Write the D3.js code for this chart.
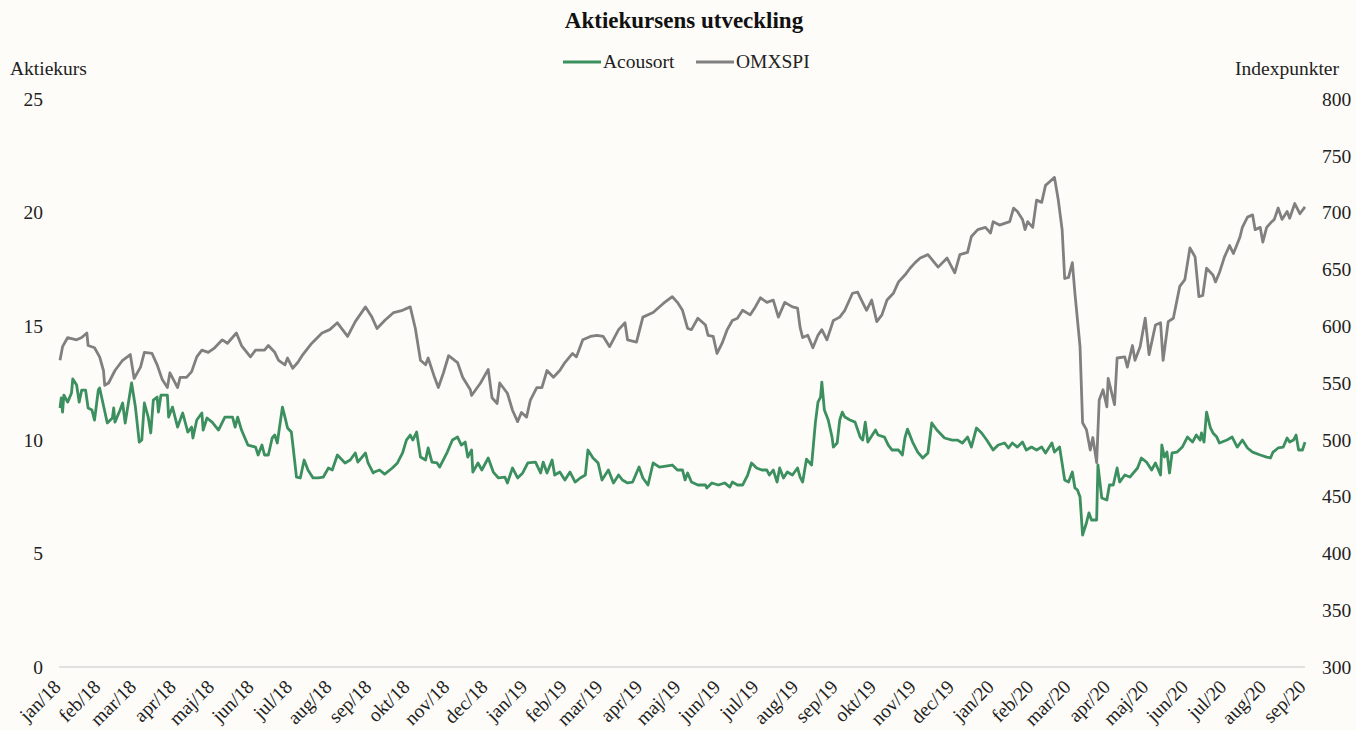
<!DOCTYPE html>
<html>
<head>
<meta charset="utf-8">
<script src="https://cdn.jsdelivr.net/npm/d3@7"></script>
<style>
  html, body { margin: 0; padding: 0; background: #fdfcf8; }
  svg { display: block; font-family: "Liberation Serif", "Times New Roman", serif; }
  .tick text { fill: #222; font-size: 19.5px; font-family: "Liberation Serif", "Times New Roman", serif; }
</style>
</head>
<body>
<div id="chart"></div>
<script>
// Days since 2018-01-01 and values
const acoDays = [0,1,2,3,6,9,10,13,15,17,20,22,25,27,30,31,37,41,42,43,47,49,51,53,56,59,62,64,66,69,71,73,76,77,79,84,85,88,92,96,100,103,104,107,111,112,115,119,124,129,135,137,139,142,147,153,155,158,160,163,166,168,170,174,176,178,181,182,185,188,191,194,198,202,206,210,213,217,223,227,231,233,239,241,245,246,250,254,260,264,268,271,274,276,279,282,286,288,291,295,297,303,307,311,314,317,319,322,323,327,330,335,339,343,348,350,354,358,362,366,372,376,378,381,385,387,391,395,399,403,407,411,413,417,421,424,429,433,437,440,444,448,453,456,460,464,469,479,483,487,489,491,494,499,505,506,510,515,520,524,526,530,534,538,541,545,549,553,555,558,561,563,566,569,573,577,579,581,584,588,591,593,595,596,598,601,604,605,608,610,612,614,618,622,626,628,630,632,638,640,645,648,651,656,659,661,663,667,671,675,679,682,686,692,698,702,706,710,713,717,721,725,730,734,739,742,745,749,753,756,760,764,768,771,776,778,782,786,789,792,794,796,798,800,803,805,807,811,812,815,819,821,824,827,829,833,837,843,846,850,854,857,861,862,864,866,868,870,874,878,882,886,889,892,893,895,897,900,902,905,907,913,917,921,925,929,933,939,944,947,949,953,957,960,962,965,967,969,972,974];
const acoValues = [11.40,11.84,11.22,11.97,11.66,12.06,12.68,12.41,11.66,12.19,12.19,11.40,11.31,10.87,12.19,12.28,10.74,10.96,11.40,10.78,11.31,11.62,10.74,11.44,12.50,11.44,9.90,9.99,11.62,11.00,10.30,11.75,11.88,11.22,11.97,11.97,11.00,11.44,10.56,11.18,10.34,10.56,10.08,10.87,11.18,10.43,10.96,10.78,10.43,11.00,11.00,10.56,11.00,10.43,9.77,9.68,9.33,9.77,9.33,9.33,10.08,10.21,9.86,11.44,11.00,10.52,10.34,9.86,8.36,8.32,9.11,8.67,8.32,8.32,8.36,8.76,8.67,9.33,8.98,9.11,9.42,9.02,9.42,8.98,8.54,8.58,8.67,8.49,8.76,8.98,9.42,9.99,10.21,9.99,10.34,9.24,9.11,9.64,9.02,8.98,8.80,9.46,9.99,10.12,9.77,9.90,9.24,9.55,8.58,8.98,8.67,9.20,8.58,8.32,8.36,8.10,8.76,8.32,8.54,8.98,9.02,8.54,9.02,8.54,9.11,8.45,8.58,8.23,8.58,8.14,8.32,8.45,9.55,9.20,8.98,8.23,8.67,8.10,8.45,8.23,8.10,8.14,8.80,8.32,8.01,8.98,8.80,8.89,8.67,8.67,8.23,8.54,8.14,8.01,8.01,7.88,8.10,8.01,8.10,7.92,8.14,8.01,8.01,8.45,8.98,8.76,8.67,8.67,8.45,8.67,8.14,8.76,8.32,8.58,8.45,8.76,8.36,8.14,9.15,8.89,10.78,11.66,11.88,12.54,11.31,10.87,10.12,9.68,9.86,10.87,11.22,11.00,10.87,10.78,10.12,9.99,10.78,9.90,10.43,10.21,10.12,9.77,9.55,9.55,9.33,10.08,10.47,9.90,9.46,9.20,9.42,10.74,10.43,10.08,9.99,9.99,9.86,10.12,9.68,10.52,10.30,9.99,9.55,9.77,9.86,9.64,9.86,9.68,9.90,9.55,9.68,9.55,9.68,9.42,9.86,9.46,9.68,8.23,8.14,8.58,7.88,7.79,7.48,5.81,6.34,6.78,6.47,6.47,8.89,7.44,7.35,8.01,8.01,8.76,8.14,8.45,8.36,8.76,9.20,9.02,8.67,8.98,8.45,9.77,9.24,9.46,8.54,9.42,9.46,9.68,10.12,9.90,10.21,9.99,10.30,9.90,11.22,10.52,10.30,10.12,9.86,9.99,10.12,9.68,9.99,9.64,9.46,9.33,9.24,9.20,9.46,9.64,9.68,10.08,9.90,9.99,10.21,9.55,9.55,9.90];

const omxDays = [0,2,6,13,17,21,22,27,31,34,35,38,43,49,55,58,63,66,72,76,80,84,86,92,94,99,103,107,111,116,121,127,131,138,142,149,153,160,163,168,171,176,178,182,186,190,197,205,211,217,225,231,239,244,248,254,261,268,274,278,282,286,288,293,296,300,304,311,315,321,322,329,335,338,342,344,350,354,358,361,365,368,373,377,381,386,391,395,401,404,409,415,420,425,430,437,442,444,451,456,464,472,479,483,487,491,494,499,505,507,511,514,518,522,526,530,534,540,544,548,553,558,562,567,573,577,579,581,585,589,593,596,600,605,610,614,620,624,627,631,635,639,643,647,652,656,661,665,669,673,679,687,694,700,704,710,713,718,724,728,730,735,743,746,749,753,755,757,761,764,768,771,774,778,781,784,786,789,792,794,798,800,803,806,808,811,813,816,819,820,825,827,833,835,839,841,845,849,852,857,861,863,867,871,876,880,884,888,891,894,897,902,904,907,911,915,918,923,925,929,933,935,939,941,944,948,950,953,956,960,962,966,970,974];
const omxValues = [570,582,590,588,590,594,583,581,573,561,548,550,561,570,575,554,564,577,576,566,553,546,559,546,555,555,560,573,579,577,581,588,585,594,583,573,579,579,583,577,570,566,572,563,568,575,585,594,597,603,591,604,617,608,598,605,612,614,617,598,570,566,572,555,546,559,574,568,555,544,539,550,562,537,532,550,541,526,516,524,520,535,546,546,561,555,561,568,576,573,588,591,592,591,582,597,603,588,586,608,612,620,626,621,614,598,597,607,601,592,591,576,585,597,605,607,614,610,617,625,621,623,608,621,617,616,599,590,592,581,592,597,588,605,608,614,629,630,623,614,623,604,610,623,629,639,645,651,656,660,663,652,660,647,663,665,679,685,687,682,692,689,692,704,701,694,685,692,687,711,709,724,727,731,711,685,642,643,656,629,582,515,509,491,502,480,535,544,529,554,531,572,573,564,583,570,582,607,575,601,603,570,604,607,635,641,669,661,626,627,651,645,639,647,661,671,664,678,687,696,698,685,687,674,687,692,694,704,694,701,695,708,699,705];

const monthNames = ["jan","feb","mar","apr","maj","jun","jul","aug","sep","okt","nov","dec"];
const leftTicks = [0, 5, 10, 15, 20, 25];
const rightTicks = [300, 350, 400, 450, 500, 550, 600, 650, 700, 750, 800];
const seriesNames = ["Acousort", "OMXSPI"];
const seriesColors = ["#3c8f5e", "#808080"];

const WIDTH = 1356, HEIGHT = 730;
const startDate = new Date(2018, 0, 1);
const endDate = new Date(2020, 8, 1);

const svg = d3.select("#chart").append("svg")
    .attr("width", WIDTH)
    .attr("height", HEIGHT);

const x = d3.scaleTime().domain([startDate, endDate]).range([60, 1305]);
const yLeft = d3.scaleLinear().domain([0, 25]).range([667, 99]);
const yRight = d3.scaleLinear().domain([300, 800]).range([667, 99]);

// title
svg.append("text")
    .attr("x", 684)
    .attr("y", 28)
    .attr("text-anchor", "middle")
    .style("font-size", "23px")
    .style("font-weight", "bold")
    .style("fill", "#111")
    .text("Aktiekursens utveckling");

// axis titles
svg.append("text")
    .attr("x", 10).attr("y", 75)
    .style("font-size", "19.5px").style("fill", "#222")
    .text("Aktiekurs");
svg.append("text")
    .attr("x", 1339).attr("y", 75)
    .attr("text-anchor", "end")
    .style("font-size", "19.5px").style("fill", "#222")
    .text("Indexpunkter");

// legend
const legend = svg.append("g");
const legendX = [563, 696];
seriesNames.forEach((name, i) => {
    legend.append("line")
        .attr("x1", legendX[i]).attr("x2", legendX[i] + 38)
        .attr("y1", 62).attr("y2", 62)
        .attr("stroke", seriesColors[i])
        .attr("stroke-width", 2.8);
    legend.append("text")
        .attr("x", legendX[i] + 40).attr("y", 68)
        .style("font-size", "19.5px").style("fill", "#222")
        .text(name);
});

// y axes (labels only)
svg.append("g")
    .attr("transform", "translate(59,0)")
    .call(d3.axisLeft(yLeft).tickValues(leftTicks).tickSize(0).tickPadding(16))
    .call(g => g.select(".domain").remove());

svg.append("g")
    .attr("transform", "translate(1305,0)")
    .call(d3.axisRight(yRight).tickValues(rightTicks).tickSize(0).tickPadding(17))
    .call(g => g.select(".domain").remove());

// x axis baseline
svg.append("line")
    .attr("x1", 59).attr("x2", 1305)
    .attr("y1", yLeft(0)).attr("y2", yLeft(0))
    .attr("stroke", "#d9d9d9")
    .attr("stroke-width", 1.3);

// month labels
const months = d3.timeMonth.range(startDate, d3.timeDay.offset(endDate, 1));
svg.append("g").selectAll("text")
    .data(months)
    .join("text")
    .attr("text-anchor", "end")
    .attr("transform", d => `translate(${x(d) + 2},${688}) rotate(-45)`)
    .style("font-size", "19.5px")
    .style("fill", "#222")
    .text(d => `${monthNames[d.getMonth()]}/${String(d.getFullYear()).slice(2)}`);

// lines
const aco = d3.zip(acoDays, acoValues).map(([d, v]) => ({ date: d3.timeDay.offset(startDate, d), value: v }));
const omx = d3.zip(omxDays, omxValues).map(([d, v]) => ({ date: d3.timeDay.offset(startDate, d), value: v }));

svg.append("path")
    .datum(omx)
    .attr("fill", "none")
    .attr("stroke", seriesColors[1])
    .attr("stroke-width", 2.8)
    .attr("stroke-linejoin", "round")
    .attr("d", d3.line().x(d => x(d.date)).y(d => yRight(d.value)));

svg.append("path")
    .datum(aco)
    .attr("fill", "none")
    .attr("stroke", seriesColors[0])
    .attr("stroke-width", 2.8)
    .attr("stroke-linejoin", "round")
    .attr("d", d3.line().x(d => x(d.date)).y(d => yLeft(d.value)));
</script>
</body>
</html>
